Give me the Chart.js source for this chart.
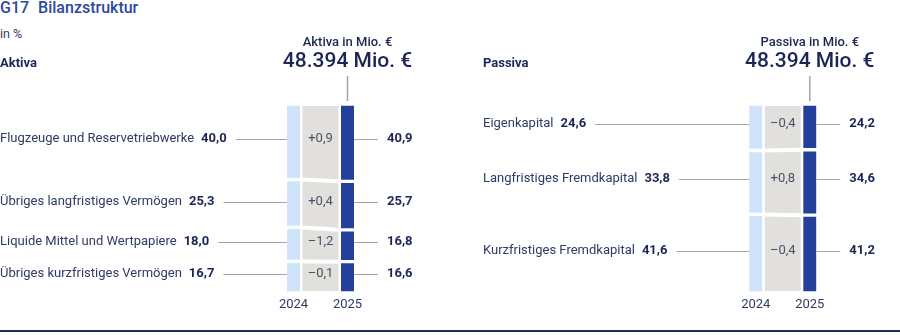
<!DOCTYPE html>
<html lang="de">
<head>
<meta charset="utf-8">
<title>Bilanzstruktur</title>
<script src="https://cdn.jsdelivr.net/npm/chart.js@4"></script>
<style>
  body { margin: 0; background: #fff; font-family: Roboto, "Noto Sans", sans-serif; }
  #wrap { position: relative; width: 900px; height: 335px; overflow: hidden; }
  .titel { position: absolute; left: 0; top: -1px; font-size: 16px; font-weight: 500; color: #2c47a6; line-height: 18px; }
  .titel span + span { margin-left: 9px; }
  .einheit { position: absolute; left: 0; top: 27px; font-size: 12.5px; color: #2f3a66; line-height: 14px; }
  canvas { position: absolute; top: 0; }
  #aktiva { left: 0; }
  #passiva { left: 450px; }
  .fuss { position: absolute; left: 0; right: 0; top: 330px; height: 2px; background: #1e2b66; }
</style>
</head>
<body>
<div id="wrap">
  <div class="titel"><span>G17</span><span>Bilanzstruktur</span></div>
  <div class="einheit">in %</div>
  <canvas id="aktiva" width="450" height="335"></canvas>
  <canvas id="passiva" width="450" height="335"></canvas>
  <div class="fuss"></div>
</div>
<script>
const jahre = ['2024', '2025'];

const aktivaKategorien = [
  'Flugzeuge und Reservetriebwerke',
  'Übriges langfristiges Vermögen',
  'Liquide Mittel und Wertpapiere',
  'Übriges kurzfristiges Vermögen'
];
const aktiva2024 = [40.0, 25.3, 18.0, 16.7];
const aktiva2025 = [40.9, 25.7, 16.8, 16.6];

const passivaKategorien = [
  'Eigenkapital',
  'Langfristiges Fremdkapital',
  'Kurzfristiges Fremdkapital'
];
const passiva2024 = [24.6, 33.8, 41.6];
const passiva2025 = [24.2, 34.6, 41.2];

const aktivaSumme = '48.394 Mio. €';
const passivaSumme = '48.394 Mio. €';

const HELLBLAU = '#cfe3fb';
const DUNKELBLAU = '#24409a';
const GRAU = '#e2e0dc';
const LINIE = '#a5a5a5';
const TEXT = '#2f3a66';
const TEXT_FETT = '#1b2656';
const FONT = 'Roboto, "Noto Sans", sans-serif';

const fmt = v => v.toFixed(1).replace('.', ',');
const fmtDelta = d => {
  const r = Math.round(d * 10) / 10;
  if (r > 0) return '+' + fmt(r);
  if (r < 0) return '–' + fmt(-r);
  return fmt(0);
};

// zeichnet Beschriftungen, Verbindungsflächen und Kopf neben den gestapelten Balken
const bilanzPlugin = {
  id: 'bilanz',
  afterDatasetsDraw(chart, args, opts) {
    const ctx = chart.ctx;
    const gap = 2;
    const n = chart.data.datasets.length;
    ctx.save();
    ctx.textBaseline = 'middle';

    let bar25x = 0, bar25Top = 0;
    for (let i = 0; i < n; i++) {
      const meta = chart.getDatasetMeta(i);
      const b0 = meta.data[0], b1 = meta.data[1];
      const werte = chart.data.datasets[i].data;
      const t0 = Math.min(b0.y, b0.base) + gap, u0 = Math.max(b0.y, b0.base) - gap;
      const t1 = Math.min(b1.y, b1.base) + gap, u1 = Math.max(b1.y, b1.base) - gap;
      const l0 = b0.x - b0.width / 2, r0 = b0.x + b0.width / 2;
      const l1 = b1.x - b1.width / 2, r1 = b1.x + b1.width / 2;
      bar25x = b1.x;
      if (i === 0) bar25Top = t1;

      // graue Veränderungsfläche
      const gl = r0 + 2.5, gr = l1 - 2.5;
      ctx.fillStyle = GRAU;
      ctx.beginPath();
      ctx.moveTo(gl, t0);
      ctx.lineTo(gr, t1);
      ctx.lineTo(gr, u1);
      ctx.lineTo(gl, u0);
      ctx.closePath();
      ctx.fill();

      // Beschriftung etwas oberhalb der Segmentmitte
      const ym = Math.round(((t0 + u0) / 2 + (t1 + u1) / 2) / 2) - 3;

      ctx.font = '13px ' + FONT;
      ctx.fillStyle = '#4a4f6a';
      ctx.textAlign = 'center';
      ctx.fillText(fmtDelta(werte[1] - werte[0]), (gl + gr) / 2, ym);

      // linke Beschriftung
      ctx.textAlign = 'left';
      ctx.fillStyle = TEXT;
      ctx.font = '13px ' + FONT;
      const name = opts.kategorien[i];
      ctx.fillText(name, opts.labelX, ym);
      const nameW = ctx.measureText(name).width;
      ctx.font = 'bold 13px ' + FONT;
      ctx.fillStyle = TEXT_FETT;
      const v0 = fmt(werte[0]);
      const vx = opts.labelX + nameW + 7;
      ctx.fillText(v0, vx, ym);
      const vEnd = vx + ctx.measureText(v0).width;

      ctx.strokeStyle = LINIE;
      ctx.lineWidth = 1;
      ctx.beginPath();
      ctx.moveTo(vEnd + 9, ym + 0.5);
      ctx.lineTo(l0, ym + 0.5);
      ctx.moveTo(r1, ym + 0.5);
      ctx.lineTo(r1 + 24, ym + 0.5);
      ctx.stroke();

      ctx.fillText(fmt(werte[1]), r1 + 33, ym);
    }

    // Jahreszahlen unter den Balken
    const xScale = chart.scales.x;
    ctx.font = '13px ' + FONT;
    ctx.fillStyle = TEXT;
    ctx.textAlign = 'center';
    chart.data.labels.forEach((j, i) => {
      ctx.fillText(j, xScale.getPixelForValue(i), chart.chartArea.bottom + 12);
    });

    // Kopf
    ctx.textAlign = 'left';
    ctx.font = 'bold 13px ' + FONT;
    ctx.fillStyle = TEXT_FETT;
    ctx.fillText(opts.ueberschrift, opts.labelX, 64);

    ctx.textAlign = 'center';
    ctx.font = '500 13px ' + FONT;
    ctx.fillText(opts.titel, bar25x, 42.5);
    ctx.font = '500 21px ' + FONT;
    ctx.fillText(opts.summe, bar25x, 62);

    ctx.strokeStyle = LINIE;
    ctx.lineWidth = 1.5;
    ctx.beginPath();
    ctx.moveTo(bar25x, 76);
    ctx.lineTo(bar25x, bar25Top - 5);
    ctx.stroke();

    ctx.restore();
  }
};

function bilanzChart(id, kategorien, w2024, w2025, plugOpts, padLeft, padRight) {
  const datasets = kategorien.map((k, i) => ({
    label: k,
    data: [w2024[i], w2025[i]],
    backgroundColor: [HELLBLAU, DUNKELBLAU],
    borderColor: '#ffffff',
    borderWidth: { top: 2, bottom: 2, left: 0, right: 0 },
    borderSkipped: false,
    barThickness: 13
  }));

  return new Chart(document.getElementById(id), {
    type: 'bar',
    data: { labels: jahre, datasets: datasets },
    options: {
      responsive: false,
      animation: false,
      devicePixelRatio: 1,
      layout: { padding: { left: padLeft, right: padRight, top: 104, bottom: 42 } },
      plugins: {
        legend: { display: false },
        tooltip: { enabled: false },
        bilanz: plugOpts
      },
      scales: {
        x: { stacked: true, display: false },
        y: {
          stacked: true,
          display: false,
          reverse: true,
          min: 0,
          max: 100
        }
      }
    },
    plugins: [bilanzPlugin]
  });
}

bilanzChart('aktiva', aktivaKategorien, aktiva2024, aktiva2025, {
  kategorien: aktivaKategorien,
  ueberschrift: 'Aktiva',
  titel: 'Aktiva in Mio. €',
  summe: aktivaSumme,
  labelX: 0
}, 266.5, 75.5);

bilanzChart('passiva', passivaKategorien, passiva2024, passiva2025, {
  kategorien: passivaKategorien,
  ueberschrift: 'Passiva',
  titel: 'Passiva in Mio. €',
  summe: passivaSumme,
  labelX: 33
}, 278.8, 63.2);
</script>
</body>
</html>
